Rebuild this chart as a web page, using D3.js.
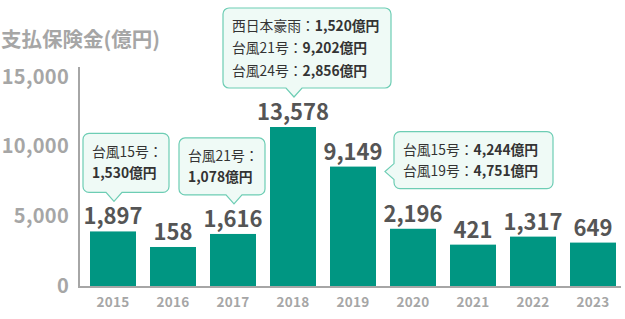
<!DOCTYPE html>
<html lang="ja">
<head>
<meta charset="utf-8">
<script src="https://cdn.jsdelivr.net/npm/d3@7"></script>
<style>
  html, body { margin: 0; padding: 0; background: #fff; }
  svg { display: block; font-family: "Noto Sans CJK JP", "Noto Sans", sans-serif; }
</style>
</head>
<body>
<svg id="chart" width="625" height="319"></svg>
<script>
// Insurance payouts by fiscal year (億円), with disaster callouts.
'use strict';

var YEARS = ['2015', '2016', '2017', '2018', '2019', '2020', '2021', '2022', '2023'];
var PAYOUTS = [1897, 158, 1616, 13578, 9149, 2196, 421, 1317, 649];
var Y_TICKS = [0, 5000, 10000, 15000];
var TITLE = '支払保険金(億円)';

var CALLOUT_YEARS = ['2015', '2017', '2018', '2019'];
var CALLOUT_LINES = [
  [['台風15号：', ''], ['', '1,530億円']],
  [['台風21号：', ''], ['', '1,078億円']],
  [['西日本豪雨：', '1,520億円'], ['台風21号：', '9,202億円'], ['台風24号：', '2,856億円']],
  [['台風15号：', '4,244億円'], ['台風19号：', '4,751億円']]
];

// placement of each callout box relative to its bar
var CALLOUT_LAYOUT = [
  { side: 'top', dx: -31, w: 86, h: 59 },
  { side: 'top', dx: -55, w: 86, h: 57 },
  { side: 'top', dx: -71, w: 168, h: 80 },
  { side: 'left', w: 159, h: 57 }
];

(function draw() {
  var svg = d3.select('#chart');
  var baseY = 286;
  var axisX = 79;

  var ink = '#555555';
  var gray = '#a6a6a6';
  var teal = '#009682';
  var mintFill = '#effaf6';
  var mintLine = '#6dcdb4';

  var x = d3.scaleBand().domain(YEARS).range([80, 626]).paddingInner(14 / 60).paddingOuter(1 / 6);
  var y = d3.scaleLinear().domain([0, 15000]).range([285, 76]);
  // bar heights in the source keep a minimum stub, so they have their own scale
  var barY = d3.scaleLinear().domain([0, 13578]).range([248.4, 127]);

  svg.append('text')
    .attr('x', 1)
    .attr('y', 47)
    .style('font-size', '20.5px')
    .style('font-weight', 700)
    .style('fill', gray)
    .text(TITLE);

  var yAxis = svg.append('g')
    .attr('transform', 'translate(' + axisX + ',0)')
    .call(d3.axisLeft(y).tickValues(Y_TICKS).tickSize(0).tickPadding(10).tickFormat(d3.format(',')));
  yAxis.select('.domain').remove();
  yAxis.selectAll('text')
    .attr('dy', '0.36em')
    .style('font-family', '"Noto Sans CJK JP", sans-serif')
    .style('font-size', '20px')
    .style('font-weight', 700)
    .style('letter-spacing', '0.3px')
    .style('fill', gray);

  svg.selectAll('rect.bar')
    .data(PAYOUTS)
    .enter()
    .append('rect')
    .attr('class', 'bar')
    .attr('x', function (d, i) { return x(YEARS[i]); })
    .attr('y', function (d) { return barY(d); })
    .attr('width', x.bandwidth())
    .attr('height', function (d) { return baseY - barY(d); })
    .style('fill', teal);

  svg.selectAll('text.value')
    .data(PAYOUTS)
    .enter()
    .append('text')
    .attr('class', 'value')
    .attr('x', function (d, i) { return x(YEARS[i]) + x.bandwidth() / 2; })
    .attr('y', function (d) { return barY(d) - 7; })
    .attr('text-anchor', 'middle')
    .style('font-size', '22px')
    .style('font-weight', 700)
    .style('fill', ink)
    .text(d3.format(','));

  svg.append('line')
    .attr('x1', axisX).attr('x2', 621)
    .attr('y1', baseY + 1).attr('y2', baseY + 1)
    .style('stroke', gray).style('stroke-width', 2);
  svg.append('line')
    .attr('x1', axisX).attr('x2', axisX)
    .attr('y1', 67).attr('y2', baseY + 2)
    .style('stroke', gray).style('stroke-width', 2);

  svg.selectAll('text.year')
    .data(YEARS)
    .enter()
    .append('text')
    .attr('class', 'year')
    .attr('x', function (d) { return x(d) + x.bandwidth() / 2; })
    .attr('y', 307)
    .attr('text-anchor', 'middle')
    .style('font-size', '13.5px')
    .style('font-weight', 700)
    .style('letter-spacing', '0.3px')
    .style('fill', gray)
    .text(function (d) { return d; });

  CALLOUT_YEARS.forEach(function (year, k) {
    var idx = YEARS.indexOf(year);
    var top = barY(PAYOUTS[idx]);
    var lay = CALLOUT_LAYOUT[k];
    var path, bx, by;
    if (lay.side === 'top') {
      var tx = x(year) + x.bandwidth() / 2 + 1;
      var ty = top - 30;
      bx = tx + lay.dx;
      by = ty - 9 - lay.h;
      path = roundedBox(bx, by, lay.w, lay.h, 6, { side: 'bottom', at: tx, tipY: ty });
    } else {
      var lx = x(year) + x.bandwidth() + 9;
      var ly = top + 5;
      bx = lx + 9;
      by = ly - 40;
      path = roundedBox(bx, by, lay.w, lay.h, 6, { side: 'left', at: ly, tipX: lx });
    }
    svg.append('path')
      .attr('d', path)
      .style('fill', mintFill)
      .style('stroke', mintLine)
      .style('stroke-width', 1.2);

    var lines = CALLOUT_LINES[k];
    var gap = lines.length === 3 ? 22.5 : 21;
    var firstY = by + (lay.h - gap * (lines.length - 1)) / 2 + 5;
    lines.forEach(function (parts, j) {
      var t = svg.append('text')
        .attr('x', bx + 9)
        .attr('y', firstY + j * gap)
        .style('font-size', '13.8px')
        .style('fill', '#333333');
      if (parts[0]) t.append('tspan').style('font-weight', 400).text(parts[0]);
      if (parts[1]) t.append('tspan').style('font-weight', 700).text(parts[1]);
    });
  });

  function roundedBox(x0, y0, w, h, r, tip) {
    var x1 = x0 + w, y1 = y0 + h, p = d3.path();
    p.moveTo(x0 + r, y0);
    p.lineTo(x1 - r, y0);
    p.arcTo(x1, y0, x1, y0 + r, r);
    p.lineTo(x1, y1 - r);
    p.arcTo(x1, y1, x1 - r, y1, r);
    if (tip.side === 'bottom') {
      p.lineTo(tip.at + 8, y1);
      p.lineTo(tip.at, tip.tipY);
      p.lineTo(tip.at - 8, y1);
    }
    p.lineTo(x0 + r, y1);
    p.arcTo(x0, y1, x0, y1 - r, r);
    if (tip.side === 'left') {
      p.lineTo(x0, tip.at + 8);
      p.lineTo(tip.tipX, tip.at);
      p.lineTo(x0, tip.at - 8);
    }
    p.lineTo(x0, y0 + r);
    p.arcTo(x0, y0, x0 + r, y0, r);
    p.closePath();
    return p.toString();
  }
}());
</script>
</body>
</html>
